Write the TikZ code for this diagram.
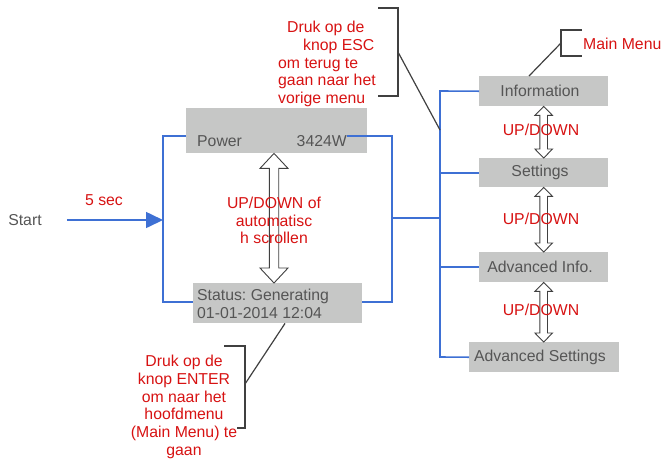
\documentclass[tikz,border=0pt]{standalone}
\usepackage{fontspec}
\setmainfont{Liberation Sans}
\usetikzlibrary{calc,arrows.meta}
\definecolor{boxgray}{RGB}{198,199,198}
\definecolor{txtgray}{RGB}{85,85,85}
\definecolor{lineblue}{RGB}{62,112,212}
\definecolor{txtred}{RGB}{215,18,18}
\definecolor{brk}{RGB}{64,64,64}
\frenchspacing
\newcommand\hollowarr[5]{%
  \draw[hollow] let \p1=(#1), \p2=(#2) in
    (\x1,\y1) -- (\x1+#4pt,\y1-#5pt) -- (\x1+#3pt,\y1-#5pt) -- (\x1+#3pt,\y2+#5pt)
    -- (\x1+#4pt,\y2+#5pt) -- (\x1,\y2) -- (\x1-#4pt,\y2+#5pt) -- (\x1-#3pt,\y2+#5pt)
    -- (\x1-#3pt,\y1-#5pt) -- (\x1-#4pt,\y1-#5pt) -- cycle;}
\begin{document}
\begin{tikzpicture}[x=1pt,y=-1pt,
  box/.style={fill=boxgray, inner sep=0pt, anchor=north west},
  btxt/.style={text=txtgray, inner sep=0pt, font=\fontsize{15.8}{17.7}\selectfont},
  lbl/.style={text=txtred, inner sep=0pt, align=center, font=\fontsize{15.8}{17.7}\selectfont},
  bus/.style={draw=lineblue, line width=1.6pt},
  brace/.style={draw=brk, line width=1.2pt},
  hollow/.style={draw=brk, fill=white, line width=0.9pt, line join=miter}]
\useasboundingbox (0,0) rectangle (663,459);

% boxes
\node[box, minimum width=181pt, minimum height=45pt] (power) at (186,108) {};
\node[box, minimum width=169pt, minimum height=40pt] (status) at (193,283) {};
\node[box, minimum width=129pt, minimum height=30pt] (info) at (479,76) {};
\node[box, minimum width=129pt, minimum height=29pt] (settings) at (479,158) {};
\node[box, minimum width=129pt, minimum height=30pt] (advinfo) at (479,252) {};
\node[box, minimum width=150pt, minimum height=30pt] (advset) at (469,342) {};

% bus coordinates
\coordinate (lt) at (163,136);
\coordinate (lb) at (163,302);
\coordinate (la) at (163,220);
\coordinate (pwl) at (347,136);
\coordinate (rt) at (392,136);
\coordinate (rb) at (392,302);
\coordinate (rm) at (392,218);
\coordinate (bt) at (440,91);
\coordinate (bb) at (440,357);
\coordinate (besc) at (440,130);

% blue lines
\draw[bus] (power.west |- lt) -- (lt) -- (lb) -- (status.west |- lb);
\draw[bus] (pwl) -- (rt) -- (rb) -- (status.east |- rb);
\draw[bus] (rm) -- (rm -| bt);
\draw[bus] (info.west) -- (bt) -- (bb) -- (advset.west);
\draw[bus] (settings.west) -- (settings.west -| bt);
\draw[bus] (advinfo.west) -- (advinfo.west -| bt);

% start
\node[btxt] (start) at (25,220) {Start};
\draw[bus, -{Triangle[length=17pt,width=16pt]}] ([xshift=25pt]start.east) -- (la);
\node[lbl] (fivesec) at (104,200) {5 sec};

% box texts
\node[btxt, anchor=west] (pwtxt) at (197,141) {Power};
\node[btxt, anchor=east] (pwval) at (347,141) {3424W};
\node[btxt, anchor=west, align=left] (sttxt) at (197,304) {Status: Generating\\01-01-2014 12:04};
\node[btxt] (infotxt) at (540,91) {Information};
\node[btxt] (settxt) at (540,172.5) {Settings};
\node[btxt] (advinfotxt) at (540,267) {Advanced Info.};
\node[btxt] (advsettxt) at (540,357) {Advanced Settings};

% hollow double arrows
\coordinate (ax) at (274,0);
\hollowarr{power.south -| ax}{status.north -| ax}{4.7}{14}{15}
\hollowarr{info.south}{settings.north}{3.8}{8.8}{9}
\hollowarr{settings.south}{advinfo.north}{3.8}{8.8}{9}
\hollowarr{advinfo.south}{advset.north}{3.8}{8.8}{9}

% red labels
\node[lbl] (scroll) at (274,220.5) {UP/DOWN of\\automatisc\\h scrollen};
\node[lbl] (ud1) at (541,130) {UP/DOWN};
\node[lbl] (ud2) at (541,219) {UP/DOWN};
\node[lbl] (ud3) at (541,310) {UP/DOWN};
\node[lbl, align=left, anchor=west] (esc) at (278,64) {\hspace*{9pt}Druk op de\\\hspace*{25pt}knop ESC\\om terug te\\gaan naar het\\vorige menu};
\node[lbl, anchor=west] (mm) at (583,44) {Main Menu};
\node[lbl] (enter) at (184,407) {Druk op de\\knop ENTER\\om naar het\\hoofdmenu\\(Main Menu) te\\gaan};

% brackets
\draw[brace] (378,8) -- (398,8) -- (398,96) -- (378,96);
\draw[brace] (398,52) -- (besc);
\draw[brace] (582,30) -- (561,30) -- (561,56) -- (582,56);
\coordinate (mmx) at (529,0);
\draw[brace] (561,43) -- (info.north -| mmx);
\draw[brace] (224,346) -- (245,346) -- (245,428) -- (237,428);
\coordinate (enx) at (285,0);
\draw[brace] (245,384) -- (status.south -| enx);
\end{tikzpicture}
\end{document}
